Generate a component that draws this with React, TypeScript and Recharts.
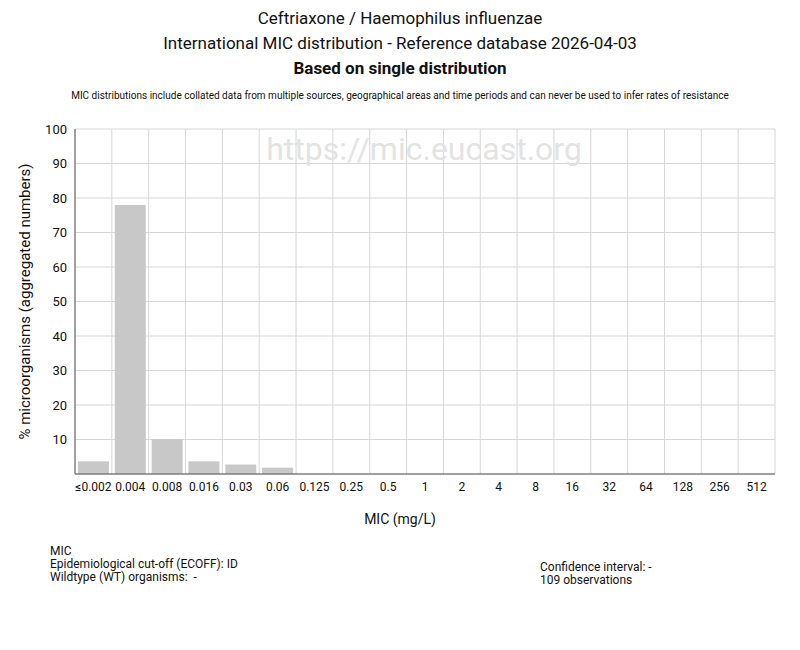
import { BarChart, Bar, XAxis, YAxis, CartesianGrid, Label } from "recharts";

const micLabels = [
  "≤0.002", "0.004", "0.008", "0.016", "0.03", "0.06", "0.125", "0.25", "0.5",
  "1", "2", "4", "8", "16", "32", "64", "128", "256", "512",
];
// counts out of 109 observations
const counts = [4, 85, 11, 4, 3, 2, 0, 0, 0, 0, 0, 0, 0, 0, 0, 0, 0, 0, 0];
const totalObs = 109;
const yTicks = [10, 20, 30, 40, 50, 60, 70, 80, 90, 100];

const data = micLabels.map((mic, i) => ({ mic, pct: (counts[i] / totalObs) * 100 }));

const FONT = "Roboto, 'Liberation Sans', sans-serif";

export default function App() {
  const boundaries = ({ offset }: any) => {
    const out: number[] = [];
    for (let i = 0; i <= micLabels.length; i++) {
      out.push(offset.left + (i * offset.width) / micLabels.length);
    }
    return out;
  };

  return (
    <div style={{ position: "absolute", left: 0, top: 0, width: 800, height: 650, background: "#fff", fontFamily: FONT, color: "#111" }}>
      <div style={{ position: "absolute", top: 8, width: 800, textAlign: "center", fontSize: 17 }}>
        Ceftriaxone / Haemophilus influenzae
      </div>
      <div style={{ position: "absolute", top: 33, width: 800, textAlign: "center", fontSize: 17 }}>
        International MIC distribution - Reference database 2026-04-03
      </div>
      <div style={{ position: "absolute", top: 58, width: 800, textAlign: "center", fontSize: 17, fontWeight: 700 }}>
        Based on single distribution
      </div>
      <div style={{ position: "absolute", top: 90, width: 800, textAlign: "center", fontSize: 10 }}>
        MIC distributions include collated data from multiple sources, geographical areas and time periods and can never be used to infer rates of resistance
      </div>

      <div style={{ position: "absolute", left: 0, top: 0 }}>
        <BarChart
          width={800}
          height={650}
          data={data}
          margin={{ top: 129, left: 40, right: 25, bottom: 146 }}
          barCategoryGap="8%"
        >
          <text x={424} y={160} textAnchor="middle" fontSize={32} fill="#e3e3e3" fontFamily={FONT}>
            https://mic.eucast.org
          </text>
          <text x={400} y={524} textAnchor="middle" fontSize={14} fill="#111" fontFamily={FONT}>
            MIC (mg/L)
          </text>
          <CartesianGrid stroke="#d6d6d6" verticalCoordinatesGenerator={boundaries} />
          <XAxis
            dataKey="mic"
            interval={0}
            tickLine={false}
            axisLine={{ stroke: "#555" }}
            tick={{ fontSize: 12, fill: "#111", fontFamily: FONT }}
            height={30}
          />
          <YAxis
            domain={[0, 100]}
            ticks={yTicks}
            tickLine={false}
            axisLine={{ stroke: "#555" }}
            tick={{ fontSize: 13, fill: "#111", fontFamily: FONT }}
            width={35}
          >
            <Label
              value="% microorganisms (aggregated numbers)"
              angle={-90}
              position="left"
              offset={15}
              style={{ textAnchor: "middle", fontSize: 15, fill: "#111", fontFamily: FONT }}
            />
          </YAxis>
          <Bar dataKey="pct" fill="#c8c8c8" isAnimationActive={false} />
        </BarChart>
      </div>

      <div style={{ position: "absolute", left: 50, top: 545, fontSize: 12, lineHeight: "13px" }}>
        <div>MIC</div>
        <div>Epidemiological cut-off (ECOFF): ID</div>
        <div>Wildtype (WT) organisms:&nbsp; -</div>
      </div>
      <div style={{ position: "absolute", left: 540, top: 561, fontSize: 12, lineHeight: "13px" }}>
        <div>Confidence interval: -</div>
        <div>109 observations</div>
      </div>
    </div>
  );
}
